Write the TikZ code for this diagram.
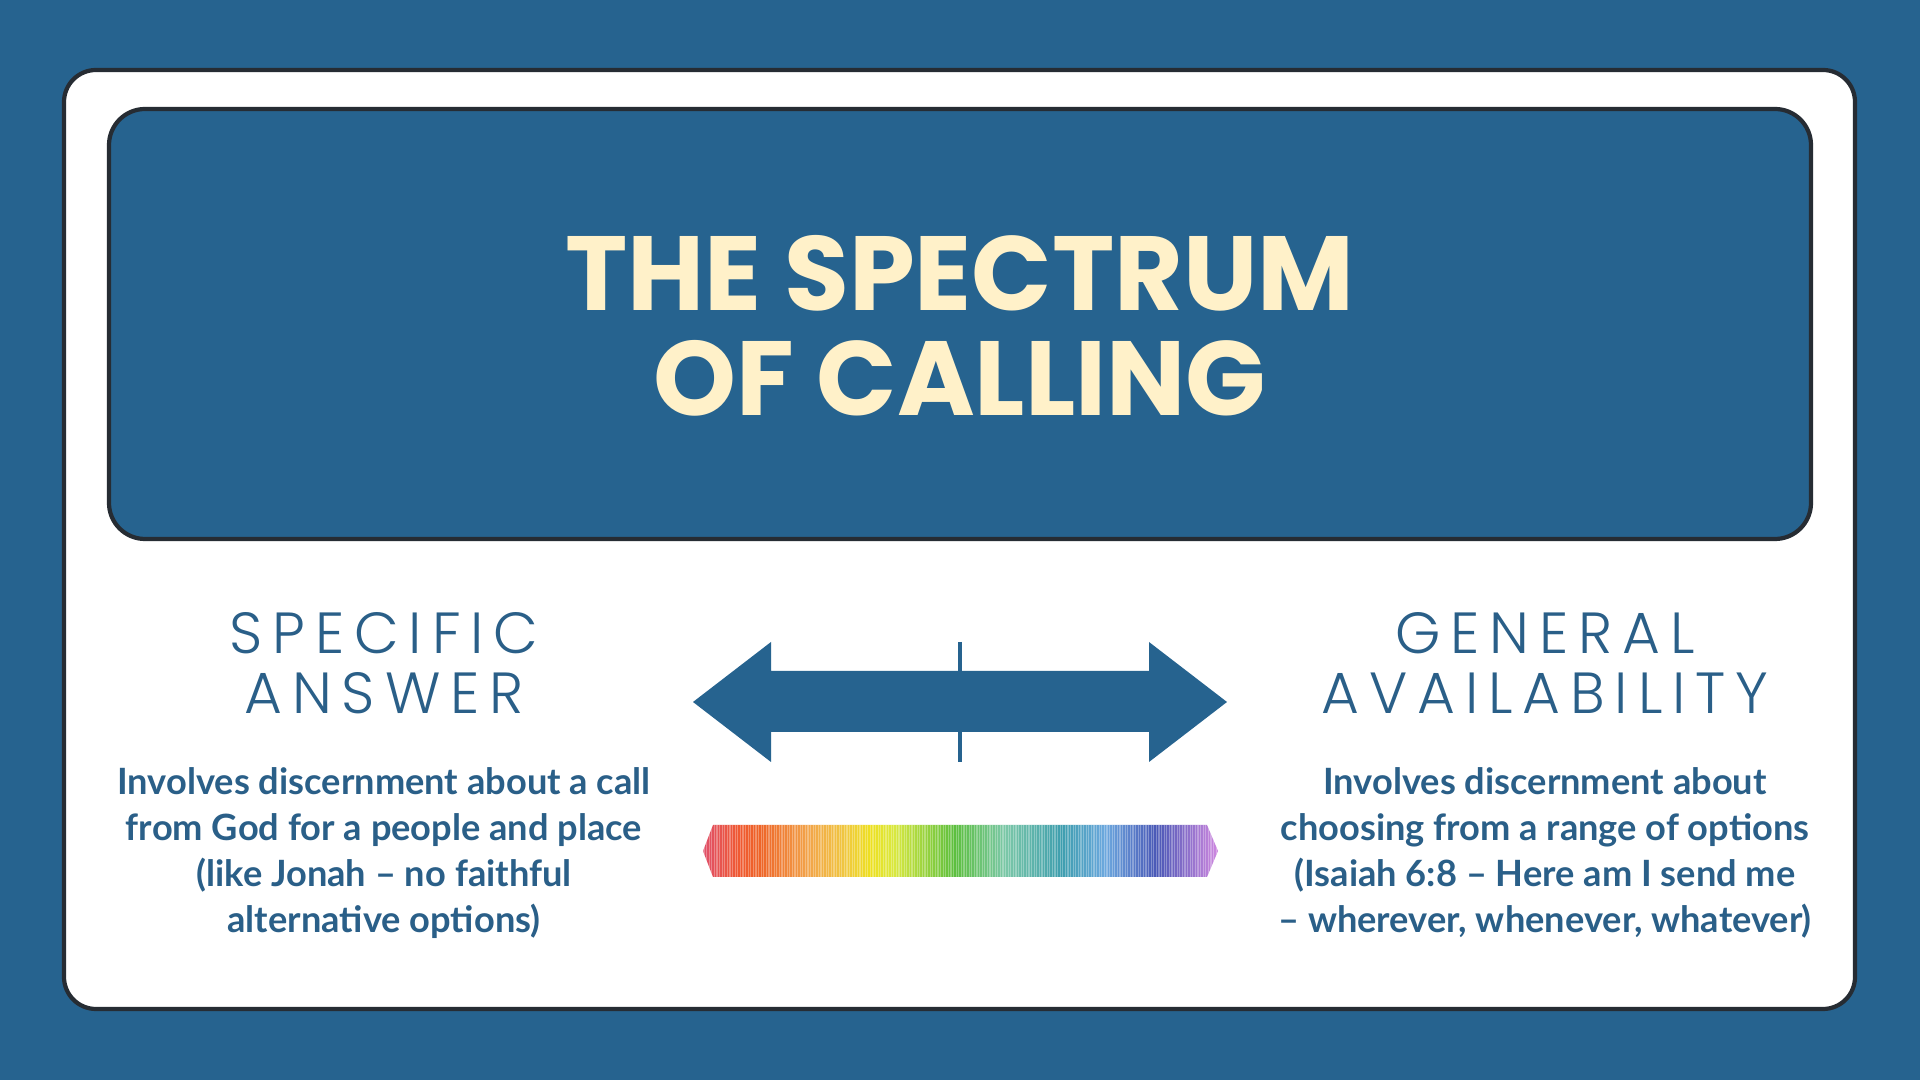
\documentclass[tikz,border=0pt]{standalone}
\usepackage{fontspec}
\setmainfont{Lato}
\newfontfamily\titlefont{Poppins}
\newfontfamily\headfont{Poppins Light}[LetterSpace=17]
\usetikzlibrary{positioning}
\definecolor{bgblue}{HTML}{26638F}
\definecolor{cream}{HTML}{FFF1C9}
\definecolor{edge}{HTML}{262C33}
\definecolor{ink}{HTML}{2A5F88}
\definecolor{sp0}{HTML}{E0506A}
\definecolor{sp1}{HTML}{F05A30}
\definecolor{sp2}{HTML}{EE6428}
\definecolor{sp3}{HTML}{F2A44A}
\definecolor{sp4}{HTML}{F0C840}
\definecolor{sp5}{HTML}{EEE020}
\definecolor{sp6}{HTML}{D8E840}
\definecolor{sp7}{HTML}{5CBF3E}
\definecolor{sp8}{HTML}{7CC8A8}
\definecolor{sp9}{HTML}{3E9EAE}
\definecolor{sp10}{HTML}{6CA8DE}
\definecolor{sp11}{HTML}{4A58B6}
\definecolor{sp12}{HTML}{D088E0}
\pgfdeclarehorizontalshading{spectrum}{100bp}{color(0bp)=(sp0); color(25bp)=(sp0);
  color(28.6bp)=(sp1); color(30.5bp)=(sp2); color(35.2bp)=(sp3); color(38.8bp)=(sp4);
  color(41.2bp)=(sp5); color(43.6bp)=(sp6); color(49.4bp)=(sp7); color(54.3bp)=(sp8);
  color(59.8bp)=(sp9); color(64bp)=(sp10); color(69bp)=(sp11); color(75bp)=(sp12);
  color(100bp)=(sp12)}

\begin{document}
\begin{tikzpicture}[x=0.01cm,y=-0.01cm,
    panel/.style={draw=edge, line width=1.2pt},
    titletext/.style={text=cream, font=\titlefont\bfseries\fontsize{30}{30}\selectfont, align=center},
    headtext/.style={text=ink, font=\headfont\fontsize{16.5}{17}\selectfont, align=center},
    bodytext/.style={text=ink, font=\bfseries\fontsize{10.3}{13.1}\selectfont, align=center}
  ]
    % page and panels
    \fill[bgblue] (0,0) rectangle (1920,1080);
    \draw[panel, fill=white, rounded corners=0.32cm] (64,70) rectangle (1855,1009);
    \draw[panel, fill=bgblue, rounded corners=0.36cm] (109,109) rectangle (1811,539);

    \node[titletext] (title) at (960,326) {THE SPECTRUM\\OF CALLING};

    \node[headtext] (specific) at (384,663) {SPECIFIC\\ANSWER};
    \node[headtext] (general) at (1545,663) {GENERAL\\AVAILABILITY};

    \node[bodytext] (specdesc) at (384,853) {Involves discernment about a call\\from God for a people and place\\(like Jonah -- no faithful\\alternative options)};
    \node[bodytext] (gendesc) at (1545,853) {Involves discernment about\\choosing from a range of options\\(Isaiah 6:8 -- Here am I send me\\-- wherever, whenever, whatever)};

    % double arrow with centre tick
    \fill[bgblue] (693,702) -- (771,642) -- (771,671) -- (1149,671) -- (1149,642) -- (1227,702)
      -- (1149,762) -- (1149,732) -- (771,732) -- (771,762) -- cycle;
    \draw[bgblue, line width=0.9pt] (960,642) -- (960,762);

    % spectrum bar
    \shade[shading=spectrum] (703,851) -- (713,825) -- (1207,825) -- (1218,851) -- (1207,877) -- (713,877) -- cycle;
    \begin{scope}
      \clip (703,851) -- (713,825) -- (1207,825) -- (1218,851) -- (1207,877) -- (713,877) -- cycle;
      \foreach \x in {704,706.6,...,1218}
        \draw[white, opacity=0.3, line width=0.3pt] (\x,820) -- (\x,880);
    \end{scope}
\end{tikzpicture}
\end{document}
